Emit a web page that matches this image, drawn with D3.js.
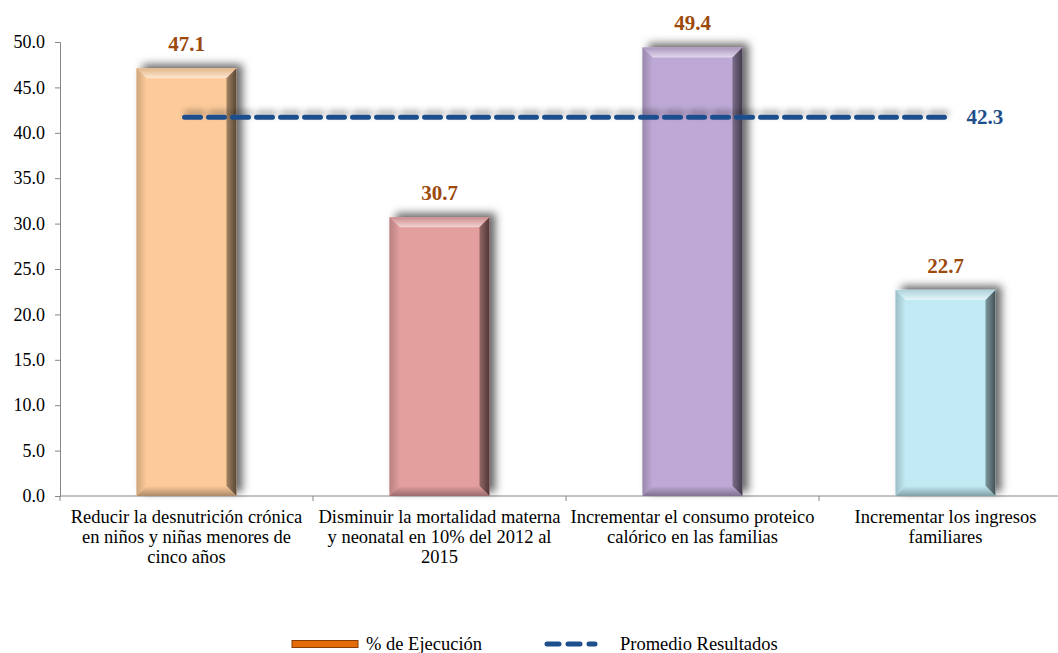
<!DOCTYPE html>
<html>
<head>
<meta charset="utf-8">
<script src="https://cdn.jsdelivr.net/npm/d3@7"></script>
<style>
  body { margin: 0; background: #fff; }
</style>
</head>
<body>
<div id="chart"></div>
<script>
// Chart data
const categories = [
    ["Reducir la desnutrición crónica", "en niños y niñas menores de", "cinco años"],
    ["Disminuir la mortalidad materna", "y neonatal en 10% del 2012 al", "2015"],
    ["Incrementar el consumo proteico", "calórico en las familias"],
    ["Incrementar los ingresos", "familiares"]
];
const values = [47.1, 30.7, 49.4, 22.7];
const barColors = ["#FDCB9A", "#E39E9E", "#BEA8D5", "#C2EAF4"];
const yTicks = [0, 5, 10, 15, 20, 25, 30, 35, 40, 45, 50];
const avgLabel = 42.3;   // value printed next to the line
const avgDrawn = 41.7;   // where the line sits in the picture
const legendNames = ["% de Ejecución", "Promedio Resultados"];

const width = 1058, height = 653;
const plotLeft = 60, plotRight = 1072, plotTop = 42, plotBottom = 496;
const serif = "'Times New Roman', 'Liberation Serif', 'DejaVu Serif', serif";

const svg = d3.select("#chart").append("svg")
    .attr("width", width)
    .attr("height", height)
    .style("font-family", serif);

const defs = svg.append("defs");
const shadow = defs.append("filter").attr("id", "shadow")
    .attr("x", "-20%").attr("y", "-20%").attr("width", "150%").attr("height", "140%");
shadow.append("feDropShadow")
    .attr("dx", 6).attr("dy", -4).attr("stdDeviation", 4)
    .attr("flood-color", "#000").attr("flood-opacity", 0.6);

// line has a zero-height bbox, so the filter region is set in user space
const lineShadow = defs.append("filter").attr("id", "lineShadow")
    .attr("filterUnits", "userSpaceOnUse")
    .attr("x", 0).attr("y", 0).attr("width", width).attr("height", height);
lineShadow.append("feDropShadow")
    .attr("dx", 2).attr("dy", -4).attr("stdDeviation", 3)
    .attr("flood-color", "#000").attr("flood-opacity", 0.35);

const keys = categories.map((c, i) => "c" + i);

const x = d3.scaleBand()
    .domain(keys)
    .range([plotLeft, plotRight]);

const y = d3.scaleLinear()
    .domain([0, 50])
    .range([plotBottom, plotTop]);

// Y axis
const yAxis = svg.append("g")
    .attr("transform", `translate(${plotLeft},0)`)
    .call(d3.axisLeft(y).tickValues(yTicks).tickFormat(d3.format(".1f")).tickSize(5).tickPadding(10));
yAxis.attr("font-family", serif);
yAxis.selectAll("path, line").attr("stroke", "#868686");
yAxis.selectAll("text").attr("font-size", "18px").attr("fill", "#000");

// X axis line with ticks at category boundaries
svg.append("line")
    .attr("x1", plotLeft).attr("x2", width)
    .attr("y1", plotBottom).attr("y2", plotBottom)
    .attr("stroke", "#868686");
svg.selectAll(".xtick")
    .data(keys)
    .enter().append("line")
    .attr("x1", d => x(d)).attr("x2", d => x(d))
    .attr("y1", plotBottom).attr("y2", plotBottom + 5)
    .attr("stroke", "#868686");

// Bars with bevel
const barW = x.bandwidth() * 0.395;
const bev = 10;

// gradients for the bevel faces, one set per bar
barColors.forEach((col, i) => {
    const c = d3.color(col);
    const mk = (id, x1, y1, x2, y2, stops) => {
        const gr = defs.append("linearGradient").attr("id", id)
            .attr("x1", x1).attr("y1", y1).attr("x2", x2).attr("y2", y2);
        stops.forEach(s => gr.append("stop").attr("offset", s[0]).attr("stop-color", s[1]));
    };
    mk("top" + i, 0, 0, 0, 1, [[0, d3.color(c).darker(0.3)], [1, d3.interpolateRgb(c, "#fff")(0.55)]]);
    mk("left" + i, 0, 0, 1, 0, [[0, d3.color(c).darker(0.6)], [1, c]]);
    mk("right" + i, 0, 0, 1, 0, [[0, d3.color(c).darker(1.2)], [1, d3.color(c).darker(3)]]);
    mk("bot" + i, 0, 0, 0, 1, [[0, c], [1, d3.color(c).darker(1.1)]]);
});

const bars = svg.selectAll(".bar")
    .data(values)
    .enter().append("g")
    .attr("class", "bar");

bars.each(function(v, i) {
    const g = d3.select(this);
    const bx = x(keys[i]) + (x.bandwidth() - barW) / 2;
    const by = y(v);
    const bw = barW, bh = plotBottom - by;

    g.append("rect")
        .attr("x", bx).attr("y", by)
        .attr("width", bw).attr("height", bh)
        .attr("fill", barColors[i])
        .attr("filter", "url(#shadow)");

    g.append("polygon")
        .attr("points", [[bx, by], [bx + bw, by], [bx + bw - bev, by + bev], [bx + bev, by + bev]].join(" "))
        .attr("fill", `url(#top${i})`);
    g.append("polygon")
        .attr("points", [[bx, by], [bx + bev, by + bev], [bx + bev, by + bh - bev], [bx, by + bh]].join(" "))
        .attr("fill", `url(#left${i})`);
    g.append("polygon")
        .attr("points", [[bx + bw, by], [bx + bw, by + bh], [bx + bw - bev, by + bh - bev], [bx + bw - bev, by + bev]].join(" "))
        .attr("fill", `url(#right${i})`);
    g.append("polygon")
        .attr("points", [[bx, by + bh], [bx + bev, by + bh - bev], [bx + bw - bev, by + bh - bev], [bx + bw, by + bh]].join(" "))
        .attr("fill", `url(#bot${i})`);

    // value label
    g.append("text")
        .attr("x", bx + bw / 2)
        .attr("y", by - 17)
        .attr("text-anchor", "middle")
        .attr("font-size", "21px")
        .attr("font-weight", "bold")
        .attr("fill", "#9C4A0C")
        .text(v.toFixed(1));
});

// Average line
const xc = k => x(k) + x.bandwidth() / 2;
svg.append("line")
    .attr("x1", xc(keys[0]) - 2)
    .attr("x2", xc(keys[keys.length - 1]))
    .attr("y1", y(avgDrawn)).attr("y2", y(avgDrawn))
    .attr("stroke", "#1F4E8C")
    .attr("stroke-width", 5)
    .attr("stroke-linecap", "round")
    .attr("stroke-dasharray", "16 8")
    .attr("filter", "url(#lineShadow)");

svg.append("text")
    .attr("x", xc(keys[keys.length - 1]) + 21)
    .attr("y", y(avgDrawn) + 7)
    .attr("font-size", "21px")
    .attr("font-weight", "bold")
    .attr("fill", "#1F4E8C")
    .text(avgLabel.toFixed(1));

// Category labels
svg.selectAll(".xlab")
    .data(categories)
    .enter().append("text")
    .attr("text-anchor", "middle")
    .attr("font-size", "18.5px")
    .attr("fill", "#000")
    .each(function(lines, i) {
        d3.select(this).selectAll("tspan")
            .data(lines)
            .enter().append("tspan")
            .attr("x", xc(keys[i]))
            .attr("y", (d, j) => plotBottom + 27 + j * 20)
            .text(d => d);
    });

// Legend
const legend = svg.append("g").attr("transform", "translate(0,644)");
legend.append("rect")
    .attr("x", 292).attr("y", -3.5)
    .attr("width", 66).attr("height", 7)
    .attr("fill", "#E46C0A")
    .attr("stroke", "#8A3E06").attr("stroke-width", 1);
legend.append("text")
    .attr("x", 366).attr("y", 6)
    .attr("font-size", "18.5px")
    .text(legendNames[0]);
legend.append("line")
    .attr("x1", 547).attr("x2", 595)
    .attr("y1", 0).attr("y2", 0)
    .attr("stroke", "#1F4E8C")
    .attr("stroke-width", 5)
    .attr("stroke-linecap", "round")
    .attr("stroke-dasharray", "12 9");
legend.append("text")
    .attr("x", 620).attr("y", 6)
    .attr("font-size", "18.5px")
    .text(legendNames[1]);
</script>
</body>
</html>
